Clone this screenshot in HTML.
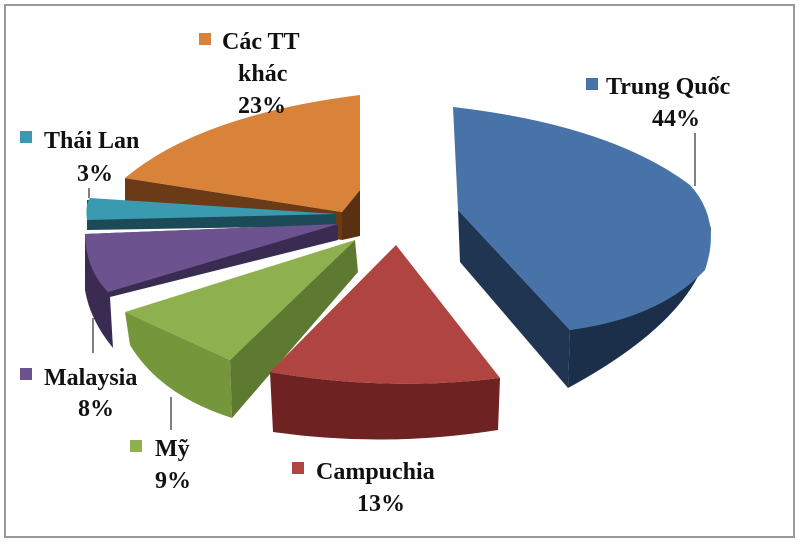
<!DOCTYPE html>
<html><head><meta charset="utf-8"><style>
body{margin:0;background:#fff}
svg{display:block}
text{font-family:"Liberation Serif",serif;font-weight:bold;font-size:24px;fill:#111}
</style></head><body>
<svg width="800" height="544" viewBox="0 0 800 544">
<rect x="5" y="5" width="789" height="532" fill="#fff" stroke="#999" stroke-width="2"/>
<!-- Orange -->
<polygon points="125,178 342,212 342,240 125,202" fill="#6b3a17"/>
<polygon points="342,212 360,190 360,236 342,240" fill="#5a3012"/>
<path d="M125,178 Q200,115 360,95 L360,190 L342,212 Z" fill="#d8823a"/>
<!-- Thai Lan -->
<polygon points="87,200 336,214 336,226 87,230" fill="#1c4a57"/>
<path d="M90,198 L336,214 L87,220 Q85,205 90,198 Z" fill="#3a9bb0"/>
<!-- Malaysia -->
<path d="M85,234 L338,224 L338,240 L110,297 L113,348 Q90,320 85,290 Z" fill="#3a2b52"/>
<path d="M85,234 L338,224 L108,292 Q86,270 85,234 Z" fill="#6c538f"/>
<!-- Green -->
<path d="M355,240 L358,272 L232,418 L230,360 Z" fill="#5e7a30"/>
<path d="M125,312 L230,360 L232,418 Q160,395 130,345 Z" fill="#76963c"/>
<path d="M355,240 L125,312 L230,360 Z" fill="#8fb04e"/>
<!-- Red -->
<path d="M270,372 Q385,392 500,378 L498,430 Q385,448 273,432 Z" fill="#6e2322"/>
<path d="M396,245 L500,378 Q385,392 270,372 Z" fill="#b04441"/>
<!-- Blue -->
<path d="M458,210 L570,330 L568,388 L460,262 Z" fill="#1f3552"/>
<path d="M711,225 Q712,310 568,388 L570,330 Q700,300 711,225 Z" fill="#1b2f4a"/>
<path d="M453,107 Q610,125 690,185 Q722,220 705,270 Q660,318 570,330 L458,210 Z" fill="#4773a8"/>
<!-- leader lines -->
<line x1="695" y1="133" x2="695" y2="186" stroke="#000"/>
<line x1="89" y1="188" x2="89" y2="198" stroke="#000"/>
<line x1="93" y1="318" x2="93" y2="353" stroke="#000"/>
<line x1="171" y1="397" x2="171" y2="430" stroke="#000"/>
<!-- labels -->
<rect x="199" y="33" width="12" height="12" fill="#d8823a"/>
<text x="222" y="49">Các TT</text>
<text x="238" y="81">khác</text>
<text x="238" y="113">23%</text>
<rect x="586" y="78" width="12" height="12" fill="#4773a8"/>
<text x="606" y="94">Trung Quốc</text>
<text x="652" y="126">44%</text>
<rect x="20" y="131" width="12" height="12" fill="#3a9bb0"/>
<text x="44" y="148">Thái Lan</text>
<text x="77" y="181">3%</text>
<rect x="20" y="368" width="12" height="12" fill="#6c538f"/>
<text x="44" y="385">Malaysia</text>
<text x="78" y="416">8%</text>
<rect x="130" y="440" width="12" height="12" fill="#8fb04e"/>
<text x="155" y="456">Mỹ</text>
<text x="155" y="488">9%</text>
<rect x="292" y="462" width="12" height="12" fill="#b04441"/>
<text x="316" y="479">Campuchia</text>
<text x="357" y="511">13%</text>
</svg>
</body></html>
